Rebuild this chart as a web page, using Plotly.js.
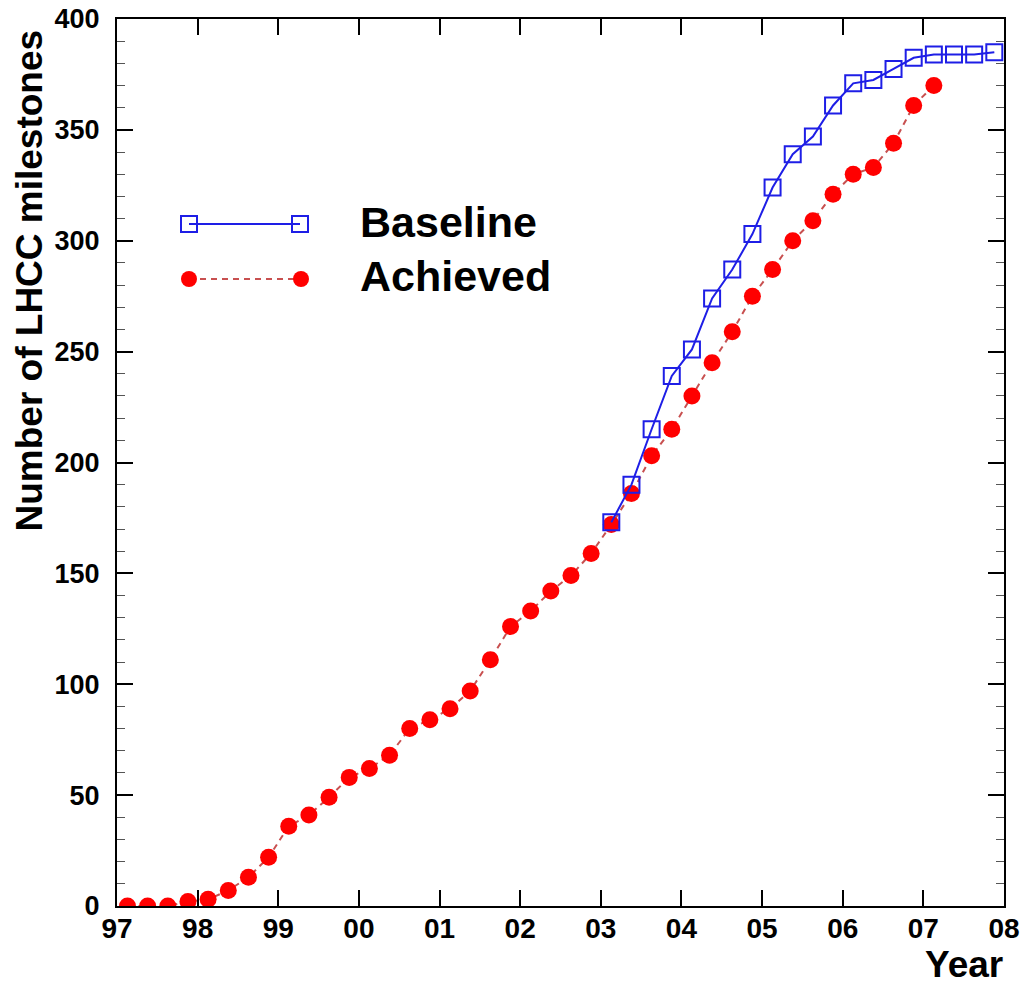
<!DOCTYPE html>
<html>
<head>
<meta charset="utf-8">
<script src="https://cdn.plot.ly/plotly-3.0.1.min.js"></script>
<style>html,body{margin:0;padding:0;background:#fff;}#chart{width:1027px;height:987px;}</style>
</head>
<body>
<div id="chart"></div>
<script>
// Achieved: quarterly milestones count
const achievedX = [1997.13,1997.38,1997.63,1997.88,1998.13,1998.38,1998.63,1998.88,1999.13,1999.38,1999.63,1999.88,
  2000.13,2000.38,2000.63,2000.88,2001.13,2001.38,2001.63,2001.88,2002.13,2002.38,2002.63,2002.88,
  2003.13,2003.38,2003.63,2003.88,2004.13,2004.38,2004.63,2004.88,2005.13,2005.38,2005.63,2005.88,
  2006.13,2006.38,2006.63,2006.88,2007.13];
const achievedY = [0,0,0,2,3,7,13,22,36,41,49,58,
  62,68,80,84,89,97,111,126,133,142,149,159,
  172,186,203,215,230,245,259,275,287,300,309,321,
  330,333,344,361,370];
// Baseline
const baselineX = [2003.13,2003.38,2003.63,2003.88,2004.13,2004.38,2004.63,2004.88,2005.13,2005.38,
  2005.63,2005.88,2006.13,2006.38,2006.63,2006.88,2007.13,2007.38,2007.63,2007.88];
const baselineY = [173,190,215,239,251,274,287,303,324,339,
  347,361,371,372.5,377.5,382.5,384,384,384,385];
// Axis ticks
const yearTickVals = [1997,1998,1999,2000,2001,2002,2003,2004,2005,2006,2007,2008];
const yearTickText = ['97','98','99','00','01','02','03','04','05','06','07','08'];
const seriesNames = ['Baseline','Achieved'];

const FONT = 'Liberation Sans, Arial, Helvetica, sans-serif';
const BLUE = 'rgb(30,30,230)';
const RED = 'rgb(255,0,0)';
const REDLINE = 'rgb(200,80,80)';

const traces = [
  {x: achievedX, y: achievedY, type: 'scatter', mode: 'lines+markers', name: seriesNames[1],
   line: {color: REDLINE, width: 2, dash: '6px,5px'},
   marker: {color: RED, size: 17, symbol: 'circle', line: {width: 0}}},
  {x: baselineX, y: baselineY, type: 'scatter', mode: 'lines+markers', name: seriesNames[0],
   line: {color: BLUE, width: 2},
   marker: {color: BLUE, size: 16, symbol: 'square-open', line: {width: 2, color: BLUE}}}
];

// plot area: left 117, right 1004, top 19, bottom 906 (887 x 887 px)
const W = 887, H = 887, L = 117, B = 906;
const px = v => (v - L) / W;
const py = v => (B - v) / H;

const shapes = [
  {type:'line', xref:'paper', yref:'paper', x0:px(189), x1:px(300), y0:py(224), y1:py(224), line:{color:BLUE, width:2}},
  {type:'rect', xref:'paper', yref:'paper', x0:px(181), x1:px(197), y0:py(232), y1:py(216), line:{color:BLUE, width:2}, fillcolor:'rgba(0,0,0,0)'},
  {type:'rect', xref:'paper', yref:'paper', x0:px(292), x1:px(308), y0:py(232), y1:py(216), line:{color:BLUE, width:2}, fillcolor:'rgba(0,0,0,0)'},
  {type:'line', xref:'paper', yref:'paper', x0:px(189), x1:px(301), y0:py(279), y1:py(279), line:{color:REDLINE, width:2, dash:'6px,5px'}},
  {type:'circle', xref:'paper', yref:'paper', x0:px(181), x1:px(197), y0:py(287), y1:py(271), line:{width:0}, fillcolor:RED},
  {type:'circle', xref:'paper', yref:'paper', x0:px(293), x1:px(309), y0:py(287), y1:py(271), line:{width:0}, fillcolor:RED}
];

const annotations = [
  {xref:'paper', yref:'paper', x:px(358), y:py(222), xanchor:'left', yanchor:'middle', showarrow:false,
   text:seriesNames[0], font:{family:FONT, size:43, weight:700, color:'#000'}},
  {xref:'paper', yref:'paper', x:px(358), y:py(276), xanchor:'left', yanchor:'middle', showarrow:false,
   text:seriesNames[1], font:{family:FONT, size:43, weight:700, color:'#000'}},
  {xref:'paper', yref:'paper', x:px(1005), y:py(942), xanchor:'right', yanchor:'top', showarrow:false,
   text:'Year', font:{family:FONT, size:37, weight:700, color:'#000'}},
  {xref:'paper', yref:'paper', x:px(7), y:py(28), xanchor:'left', yanchor:'top', showarrow:false, textangle:-90,
   text:'Number of LHCC milestones', font:{family:FONT, size:37, weight:700, color:'#000'}}
];

const layout = {
  width: 1027, height: 987,
  margin: {l: 117, r: 23, t: 19, b: 81, pad: 0},
  paper_bgcolor: '#fff', plot_bgcolor: '#fff',
  showlegend: false,
  xaxis: {
    range: [1997, 2008], tickvals: yearTickVals, ticktext: yearTickText,
    showgrid: false, zeroline: false, showline: true, linecolor: '#000', linewidth: 2, mirror: 'ticks',
    ticks: 'inside', ticklen: 16, tickwidth: 2, tickcolor: '#000',
    tickfont: {family: FONT, size: 28, weight: 700, color: '#000'}, ticklabelstandoff: -4
  },
  yaxis: {
    range: [0, 400], dtick: 50, tick0: 0,
    showgrid: false, zeroline: false, showline: true, linecolor: '#000', linewidth: 2, mirror: 'ticks',
    ticks: 'inside', ticklen: 16, tickwidth: 2, tickcolor: '#000',
    minor: {dtick: 10, ticks: 'inside', ticklen: 8, tickwidth: 1, tickcolor: '#555', showgrid: false},
    tickfont: {family: FONT, size: 27, weight: 700, color: '#000'}, ticklabelstandoff: 10
  },
  shapes: shapes,
  annotations: annotations
};

Plotly.newPlot('chart', traces, layout, {displayModeBar: false, staticPlot: true});
</script>
</body>
</html>
